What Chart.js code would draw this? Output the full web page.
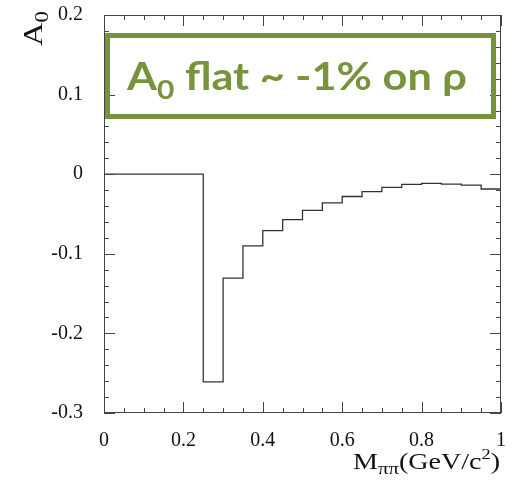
<!DOCTYPE html>
<html>
<head>
<script src="https://cdn.jsdelivr.net/npm/chart.js"></script>
<style>
  body { margin: 0; background: #fff; }
  #wrap { width: 512px; height: 480px; }
</style>
</head>
<body>
<div id="wrap"><canvas id="myChart" width="512" height="480"></canvas></div>
<script>
// bin edges (GeV/c^2) and A0 per bin
var binEdges = [0, 0.25, 0.30, 0.35, 0.40, 0.45, 0.50, 0.55, 0.60, 0.65, 0.70, 0.75, 0.80, 0.85, 0.90, 0.95, 1.00];
var a0Values = [0, -0.261, -0.1306, -0.090, -0.071, -0.057, -0.0455, -0.036, -0.028, -0.022, -0.0166, -0.0128, -0.0115, -0.0124, -0.0136, -0.0186];
var xTicks = [0, 0.2, 0.4, 0.6, 0.8, 1];
var yTicks = [-0.3, -0.2, -0.1, 0, 0.1, 0.2];

var points = binEdges.map(function (x, i) {
  return { x: x, y: a0Values[Math.min(i, a0Values.length - 1)] };
});

var serif = '"Liberation Serif", "DejaVu Serif", serif';
var green = '#77933c';

// draw a run of [text, size, dy] pieces, stretched to a given total width
function drawRuns(c, runs, weight, fam, x, y, width) {
  var total = 0;
  runs.forEach(function (p) { c.font = weight + ' ' + p[1] + 'px ' + fam; total += c.measureText(p[0]).width; });
  var k = width ? width / total : 1;
  c.save();
  c.translate(x, y);
  c.scale(k, 1);
  var cx = 0;
  runs.forEach(function (p) {
    c.font = weight + ' ' + p[1] + 'px ' + fam;
    c.fillText(p[0], cx, p[2]);
    cx += c.measureText(p[0]).width;
  });
  c.restore();
}

// ROOT style frame with inward ticks on all four sides
var frame = {
  id: 'frame',
  afterDraw: function (chart) {
    var c = chart.ctx, a = chart.chartArea;
    var xs = chart.scales.x, ys = chart.scales.y;
    c.save();
    c.strokeStyle = '#444';
    c.lineWidth = 1;
    c.strokeRect(Math.round(a.left) + 0.5, Math.round(a.top) + 0.5, Math.round(a.right - a.left) - 1, Math.round(a.bottom - a.top) - 1);
    c.beginPath();
    for (var i = 0; i <= 20; i++) {
      var px = Math.round(xs.getPixelForValue(i * 0.05)) + 0.5;
      var len = (i % 4 === 0) ? 11 : 5;
      c.moveTo(px, a.bottom); c.lineTo(px, a.bottom - len);
      c.moveTo(px, a.top); c.lineTo(px, a.top + len);
    }
    for (var j = 0; j <= 25; j++) {
      var v = -0.3 + j * 0.02;
      var py = Math.round(ys.getPixelForValue(v)) + 0.5;
      var l2 = (j % 5 === 0) ? 11 : 5;
      c.moveTo(a.left, py); c.lineTo(a.left + l2, py);
      c.moveTo(a.right, py); c.lineTo(a.right - l2, py);
    }
    c.stroke();

    // axis titles
    c.fillStyle = '#111';
    c.textBaseline = 'alphabetic';
    drawRuns(c, [['M', 23, 0], ['\u03c0\u03c0', 17, 5], ['(GeV/c', 23, 0], ['2', 15, -10], [')', 23, 0]],
      'normal', serif, 353, 469, 147);

    c.save();
    c.translate(42, 46);
    c.rotate(-Math.PI / 2);
    drawRuns(c, [['A', 27, 0], ['0', 19, 6]], 'normal', serif, 0, 0, 35);
    c.restore();

    // green label box
    c.strokeStyle = green;
    c.lineWidth = 5;
    c.strokeRect(107.5, 35.5, 386, 81);
    c.fillStyle = green;
    drawRuns(c, [['A', 39, 0], ['0', 27, 9], [' flat ~ -1% on \u03c1', 39, 0]],
      'bold', 'Lato, "Open Sans", sans-serif', 127, 90, 340);
    c.restore();
  }
};

var ctx = document.getElementById('myChart').getContext('2d');
var chart = new Chart(ctx, {
  type: 'line',
  data: {
    datasets: [{
      data: points,
      stepped: true,
      borderColor: '#333',
      borderWidth: 1.3,
      pointRadius: 0,
      fill: false
    }]
  },
  options: {
    responsive: false,
    animation: false,
    layout: { padding: { top: 15, right: 11, left: 0, bottom: 0 } },
    plugins: { legend: { display: false }, tooltip: { enabled: false } },
    scales: {
      x: {
        type: 'linear',
        min: 0, max: 1,
        afterFit: function (s) { s.height = 67; s.paddingLeft = 0; s.paddingRight = 0; },
        afterBuildTicks: function (s) { s.ticks = xTicks.map(function (v) { return { value: v }; }); },
        grid: { display: false },
        border: { display: false },
        ticks: {
          padding: 8,
          color: '#111',
          font: { family: serif, size: 20 },
          maxRotation: 0,
          callback: function (v) { return String(+v.toFixed(2)); }
        }
      },
      y: {
        min: -0.3, max: 0.2,
        afterFit: function (s) { s.width = 104; s.paddingTop = 0; s.paddingBottom = 0; },
        afterBuildTicks: function (s) { s.ticks = yTicks.map(function (v) { return { value: v }; }); },
        grid: { display: false },
        border: { display: false },
        ticks: {
          padding: 13,
          color: '#111',
          font: { family: serif, size: 20 },
          callback: function (v) { return String(+v.toFixed(2)); }
        }
      }
    }
  },
  plugins: [frame]
});
</script>
</body>
</html>
